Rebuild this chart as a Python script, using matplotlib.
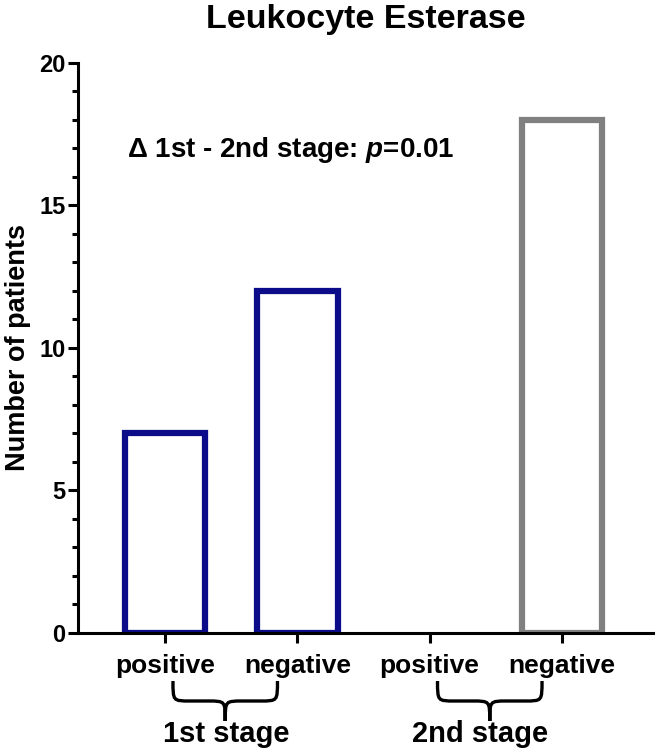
import matplotlib
matplotlib.use('Agg')
import matplotlib.pyplot as plt
from matplotlib.path import Path
from matplotlib.patches import PathPatch
from matplotlib.transforms import blended_transform_factory
from matplotlib.ticker import MultipleLocator

plt.rcParams['font.family'] = 'Liberation Sans'
plt.rcParams['font.weight'] = 'bold'
plt.rcParams['mathtext.fontset'] = 'custom'
plt.rcParams['mathtext.it'] = 'Liberation Sans:italic:bold'
plt.rcParams['mathtext.rm'] = 'Liberation Sans:bold'

# data
categories = ['positive', 'negative', 'positive', 'negative']
counts = [7, 12, 0, 18]
bar_colors = ['#0c0c8a', '#0c0c8a', '#808080', '#808080']
stages = ['1st stage', '2nd stage']
stage_pairs = [(0, 1), (2, 3)]

fig = plt.figure(figsize=(6.57, 7.53), dpi=100)
ax = fig.add_axes([78 / 657, 120 / 753, 575 / 657, 570.3 / 753])

x = range(len(categories))
for xi, v, c in zip(x, counts, bar_colors):
    if v > 0:
        ax.bar(xi, v, width=0.61, facecolor='white', edgecolor=c, linewidth=4.5)

ax.set_xlim(-0.658, 3.689)
ax.set_ylim(0, 20)
ax.yaxis.set_major_locator(MultipleLocator(5))
ax.yaxis.set_minor_locator(MultipleLocator(1))
ax.set_xticks(list(x))
ax.set_xticklabels(categories, fontsize=19, fontweight='bold')
ax.tick_params(axis='x', length=7, width=2.2, pad=8)
ax.tick_params(axis='y', which='major', length=7, width=2.2, labelsize=17, pad=2)
ax.tick_params(axis='y', which='minor', length=4.5, width=2.2)
for s in ['top', 'right']:
    ax.spines[s].set_visible(False)
for s in ['left', 'bottom']:
    ax.spines[s].set_linewidth(2.2)

ax.set_ylabel('Number of patients', fontsize=19.5, fontweight='bold', labelpad=6)
ax.set_title('Leukocyte Esterase', fontsize=24.5, fontweight='bold', pad=25)

ax.text(-0.29, 16.7, r'Δ 1st - 2nd stage: $p$=0.01', fontsize=20,
        fontweight='bold', va='baseline', ha='left')

# braces under the category pairs
tr = blended_transform_factory(ax.transData, fig.transFigure)
y_top, y_mid, y_tip = 1 - 681 / 753, 1 - 701 / 753, 1 - 721 / 753
for (a, b), name, tx in zip(stage_pairs, stages, [0.46, 2.38]):
    x0, x1 = a + 0.06, b - 0.15
    xc = (x0 + x1) / 2
    q = 0.13
    verts = [(x0, y_top), (x0, y_mid), (x0, y_mid), (x0 + q, y_mid),
             (xc - q, y_mid), (xc, y_mid), (xc, y_mid), (xc, y_tip),
             (xc, y_mid), (xc, y_mid), (xc + q, y_mid),
             (x1 - q, y_mid), (x1, y_mid), (x1, y_mid), (x1, y_top)]
    codes = [Path.MOVETO, Path.CURVE4, Path.CURVE4, Path.CURVE4,
             Path.LINETO, Path.CURVE4, Path.CURVE4, Path.CURVE4,
             Path.CURVE4, Path.CURVE4, Path.CURVE4,
             Path.LINETO, Path.CURVE4, Path.CURVE4, Path.CURVE4]
    ax.add_patch(PathPatch(Path(verts, codes), transform=tr, fill=False,
                           lw=2.4, ec='black', clip_on=False))
    ax.text(tx, 1 - 742 / 753, name, transform=tr, fontsize=21,
            fontweight='bold', ha='center', va='baseline')

fig.savefig('out.png', dpi=100)
